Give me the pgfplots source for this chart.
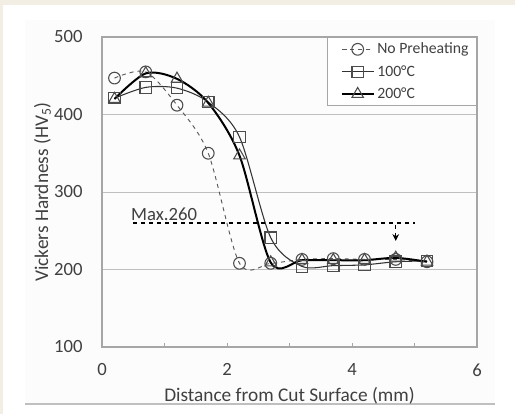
\documentclass[border=0pt]{standalone}
\usepackage{pgfplots}
\pgfplotsset{compat=1.18}
\usepackage{fontspec}
\setmainfont{Carlito}
\usetikzlibrary{arrows.meta}
\definecolor{beige}{HTML}{F2EEE4}
\definecolor{txt}{HTML}{404040}
\definecolor{frame}{HTML}{A6A6A6}
\definecolor{gridc}{HTML}{BFBFBF}
\begin{document}
\begin{tikzpicture}[x=0.75pt,y=0.75pt]
\useasboundingbox (0,0) rectangle (515,414);
\fill[beige] (0,0) rectangle (515,414);
\fill[white] (3,0) rectangle (515,409);
\fill[white!99!black] (25,10) rectangle (495,394);
\draw[gridc,line width=0.8pt] (25,10) -- (495,10);
\begin{axis}[
  at={(102*0.75pt,67*0.75pt)}, anchor=south west,
  scale only axis, width=281.25pt, height=232.5pt,
  xmin=0, xmax=6, ymin=100, ymax=500,
  xtick={0,1,...,6}, xticklabels={0,,2,,4,,6},
  ytick={100,200,...,500},
  tick align=inside,
  xtick pos=bottom, ytick pos=left,
  tick style={frame, line width=0.6pt},
  major tick length=3pt,
  y tick style={draw=none},
  ymajorgrids, grid style={gridc, line width=0.6pt},
  axis line style={frame, line width=0.8pt},
  /pgf/number format/assume math mode=true,
  ticklabel style={font=\fontsize{14}{16}\selectfont, text=txt},
  xticklabel style={yshift=-9pt},
  yticklabel style={xshift=-11pt},
  xlabel={Distance from Cut Surface (mm)},
  ylabel={Vickers Hardness (HV\textsubscript{5})},
  label style={font=\fontsize{14.5}{16}\selectfont, text=txt},
  xlabel style={yshift=-1pt},
  ylabel style={yshift=-4.5pt},
  legend style={at={(1,1)}, anchor=north east, draw=frame, line width=0.8pt,
    font=\fontsize{11.8}{13}\selectfont, text=txt, inner xsep=4pt, inner ysep=2pt,
    row sep=3.2pt, fill=white},
  legend cell align=left,
  legend image code/.code={\path (-0.2cm,0cm); \draw[mark repeat=2,mark phase=2,#1] plot coordinates {(0cm,0cm)(0.42cm,0cm)(0.84cm,0cm)};},
]
\addplot[smooth, dashed, color=black!65, line width=0.7pt,
  mark=o, mark size=4.4pt, mark options={solid, line width=0.8pt, draw=black!70}]
coordinates {(0.2,447)(0.7,455)(1.2,412)(1.7,350)(2.2,208)(2.7,208)(3.2,213)(3.7,214)(4.2,213)(4.7,213)(5.2,210)};
\addlegendentry{No Preheating}
\addplot[smooth, color=black!80, line width=0.8pt,
  mark=square, mark size=4.3pt, mark options={solid, line width=0.8pt, draw=black!70}]
coordinates {(0.2,421)(0.7,435)(1.2,434)(1.7,416)(2.2,371)(2.7,241)(3.2,204)(3.7,205)(4.2,206)(4.7,210)(5.2,211)};
\addlegendentry{100°C}
\addplot[smooth, color=black, line width=1.5pt,
  mark=triangle, mark size=5pt, mark options={solid, line width=0.8pt, draw=black!70}]
coordinates {(0.2,420)(0.7,453)(1.2,446)(1.7,415)(2.2,347)(2.7,209)(3.2,212)(3.7,212)(4.2,212)(4.7,215)(5.2,210)};
\addlegendentry{200°C}
\addplot[black, dashed, line width=1pt, forget plot] coordinates {(0.5,260)(5.0,260)};
\addplot[black, dashed, line width=0.8pt, -{Stealth[length=5pt,width=5pt]}, forget plot] coordinates {(4.7,258)(4.7,237)};
\node[anchor=south west, font=\fontsize{14}{16}\selectfont, text=txt, inner sep=1pt] at (axis cs:0.44,261) {Max.260};
\end{axis}
\end{tikzpicture}
\end{document}
